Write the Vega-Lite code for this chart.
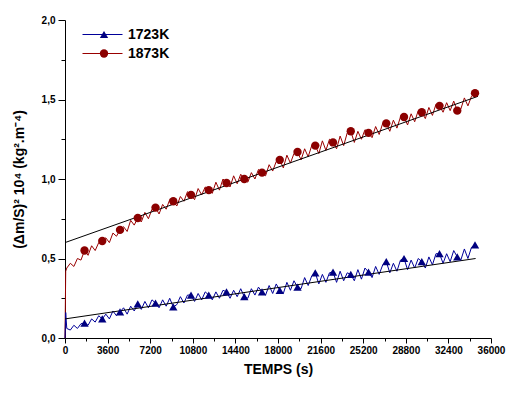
{
  "$schema": "https://vega.github.io/schema/vega-lite/v6.json",
  "autosize": {"type": "none"},
  "padding": {"left": 65, "top": 20, "right": 27, "bottom": 56},
  "width": 426,
  "height": 318,
  "background": "white",
  "config": {
    "view": {"stroke": null},
    "font": "Liberation Sans",
    "axis": {"domainColor": "black", "tickColor": "black", "labelColor": "black", "titleColor": "black", "grid": false, "labelFontWeight": "bold", "labelFontSize": 10, "titleFontWeight": "bold", "titleFontSize": 14, "labelFont": "Liberation Sans", "titleFont": "Liberation Sans"}
  },
  "datasets": {
    "obs": [
      {"s":"1873K","t":0,"v":0,"m":0},{"s":"1873K","t":60,"v":0.42,"m":0},{"s":"1873K","t":150,"v":0.44,"m":0},{"s":"1873K","t":450,"v":0.47,"m":0},{"s":"1873K","t":750,"v":0.45,"m":0},{"s":"1873K","t":1050,"v":0.5,"m":0},{"s":"1873K","t":1350,"v":0.49,"m":0},
      {"s":"1873K","t":1650,"v":0.55,"m":1},{"s":"1873K","t":1950,"v":0.52,"m":0},{"s":"1873K","t":2250,"v":0.58,"m":0},{"s":"1873K","t":2550,"v":0.55,"m":0},{"s":"1873K","t":2850,"v":0.6,"m":0},
      {"s":"1873K","t":3150,"v":0.61,"m":1},{"s":"1873K","t":3450,"v":0.63,"m":0},{"s":"1873K","t":3750,"v":0.6,"m":0},{"s":"1873K","t":4050,"v":0.66,"m":0},{"s":"1873K","t":4350,"v":0.64,"m":0},
      {"s":"1873K","t":4650,"v":0.68,"m":1},{"s":"1873K","t":4950,"v":0.7,"m":0},{"s":"1873K","t":5250,"v":0.67,"m":0},{"s":"1873K","t":5550,"v":0.74,"m":0},{"s":"1873K","t":5850,"v":0.71,"m":0},
      {"s":"1873K","t":6150,"v":0.755,"m":1},{"s":"1873K","t":6450,"v":0.73,"m":0},{"s":"1873K","t":6750,"v":0.79,"m":0},{"s":"1873K","t":7050,"v":0.75,"m":0},{"s":"1873K","t":7350,"v":0.81,"m":0},
      {"s":"1873K","t":7650,"v":0.82,"m":1},{"s":"1873K","t":7950,"v":0.78,"m":0},{"s":"1873K","t":8250,"v":0.84,"m":0},{"s":"1873K","t":8550,"v":0.81,"m":0},{"s":"1873K","t":8850,"v":0.87,"m":0},
      {"s":"1873K","t":9150,"v":0.86,"m":1},{"s":"1873K","t":9450,"v":0.83,"m":0},{"s":"1873K","t":9750,"v":0.89,"m":0},{"s":"1873K","t":10050,"v":0.86,"m":0},{"s":"1873K","t":10350,"v":0.92,"m":0},
      {"s":"1873K","t":10650,"v":0.9,"m":1},{"s":"1873K","t":10950,"v":0.87,"m":0},{"s":"1873K","t":11250,"v":0.94,"m":0},{"s":"1873K","t":11550,"v":0.9,"m":0},{"s":"1873K","t":11850,"v":0.95,"m":0},
      {"s":"1873K","t":12150,"v":0.93,"m":1},{"s":"1873K","t":12450,"v":0.91,"m":0},{"s":"1873K","t":12750,"v":0.98,"m":0},{"s":"1873K","t":13050,"v":0.93,"m":0},{"s":"1873K","t":13350,"v":1.0,"m":0},
      {"s":"1873K","t":13650,"v":0.975,"m":1},{"s":"1873K","t":13950,"v":0.95,"m":0},{"s":"1873K","t":14250,"v":1.02,"m":0},{"s":"1873K","t":14550,"v":0.97,"m":0},{"s":"1873K","t":14850,"v":1.03,"m":0},
      {"s":"1873K","t":15150,"v":1.0,"m":1},{"s":"1873K","t":15450,"v":0.98,"m":0},{"s":"1873K","t":15750,"v":1.04,"m":0},{"s":"1873K","t":16050,"v":1.0,"m":0},{"s":"1873K","t":16350,"v":1.06,"m":0},
      {"s":"1873K","t":16650,"v":1.04,"m":1},{"s":"1873K","t":16950,"v":1.02,"m":0},{"s":"1873K","t":17250,"v":1.09,"m":0},{"s":"1873K","t":17550,"v":1.05,"m":0},{"s":"1873K","t":17850,"v":1.11,"m":0},
      {"s":"1873K","t":18150,"v":1.12,"m":1},{"s":"1873K","t":18450,"v":1.07,"m":0},{"s":"1873K","t":18750,"v":1.15,"m":0},{"s":"1873K","t":19050,"v":1.1,"m":0},{"s":"1873K","t":19350,"v":1.16,"m":0},
      {"s":"1873K","t":19650,"v":1.17,"m":1},{"s":"1873K","t":19950,"v":1.12,"m":0},{"s":"1873K","t":20250,"v":1.19,"m":0},{"s":"1873K","t":20550,"v":1.14,"m":0},{"s":"1873K","t":20850,"v":1.21,"m":0},
      {"s":"1873K","t":21150,"v":1.21,"m":1},{"s":"1873K","t":21450,"v":1.16,"m":0},{"s":"1873K","t":21750,"v":1.24,"m":0},{"s":"1873K","t":22050,"v":1.18,"m":0},{"s":"1873K","t":22350,"v":1.25,"m":0},
      {"s":"1873K","t":22650,"v":1.23,"m":1},{"s":"1873K","t":22950,"v":1.19,"m":0},{"s":"1873K","t":23250,"v":1.27,"m":0},{"s":"1873K","t":23550,"v":1.21,"m":0},{"s":"1873K","t":23850,"v":1.29,"m":0},
      {"s":"1873K","t":24150,"v":1.3,"m":1},{"s":"1873K","t":24450,"v":1.23,"m":0},{"s":"1873K","t":24750,"v":1.3,"m":0},{"s":"1873K","t":25050,"v":1.25,"m":0},{"s":"1873K","t":25350,"v":1.31,"m":0},
      {"s":"1873K","t":25650,"v":1.29,"m":1},{"s":"1873K","t":25950,"v":1.26,"m":0},{"s":"1873K","t":26250,"v":1.33,"m":0},{"s":"1873K","t":26550,"v":1.28,"m":0},{"s":"1873K","t":26850,"v":1.35,"m":0},
      {"s":"1873K","t":27150,"v":1.35,"m":1},{"s":"1873K","t":27450,"v":1.3,"m":0},{"s":"1873K","t":27750,"v":1.37,"m":0},{"s":"1873K","t":28050,"v":1.32,"m":0},{"s":"1873K","t":28350,"v":1.39,"m":0},
      {"s":"1873K","t":28650,"v":1.39,"m":1},{"s":"1873K","t":28950,"v":1.34,"m":0},{"s":"1873K","t":29250,"v":1.41,"m":0},{"s":"1873K","t":29550,"v":1.36,"m":0},{"s":"1873K","t":29850,"v":1.43,"m":0},
      {"s":"1873K","t":30150,"v":1.42,"m":1},{"s":"1873K","t":30450,"v":1.38,"m":0},{"s":"1873K","t":30750,"v":1.45,"m":0},{"s":"1873K","t":31050,"v":1.4,"m":0},{"s":"1873K","t":31350,"v":1.47,"m":0},
      {"s":"1873K","t":31650,"v":1.46,"m":1},{"s":"1873K","t":31950,"v":1.42,"m":0},{"s":"1873K","t":32250,"v":1.48,"m":0},{"s":"1873K","t":32550,"v":1.43,"m":0},{"s":"1873K","t":32850,"v":1.49,"m":0},
      {"s":"1873K","t":33150,"v":1.43,"m":1},{"s":"1873K","t":33450,"v":1.44,"m":0},{"s":"1873K","t":33750,"v":1.51,"m":0},{"s":"1873K","t":34050,"v":1.46,"m":0},{"s":"1873K","t":34350,"v":1.52,"m":0},
      {"s":"1873K","t":34650,"v":1.54,"m":1},

      {"s":"1723K","t":0,"v":0,"m":0},{"s":"1723K","t":60,"v":0.16,"m":0},{"s":"1723K","t":150,"v":0.06,"m":0},{"s":"1723K","t":450,"v":0.05,"m":0},{"s":"1723K","t":750,"v":0.08,"m":0},{"s":"1723K","t":1050,"v":0.06,"m":0},{"s":"1723K","t":1350,"v":0.09,"m":0},
      {"s":"1723K","t":1650,"v":0.094,"m":1},{"s":"1723K","t":1950,"v":0.08,"m":0},{"s":"1723K","t":2250,"v":0.12,"m":0},{"s":"1723K","t":2550,"v":0.1,"m":0},{"s":"1723K","t":2850,"v":0.14,"m":0},
      {"s":"1723K","t":3150,"v":0.12,"m":1},{"s":"1723K","t":3450,"v":0.15,"m":0},{"s":"1723K","t":3750,"v":0.12,"m":0},{"s":"1723K","t":4050,"v":0.17,"m":0},{"s":"1723K","t":4350,"v":0.14,"m":0},
      {"s":"1723K","t":4650,"v":0.164,"m":1},{"s":"1723K","t":4950,"v":0.19,"m":0},{"s":"1723K","t":5250,"v":0.15,"m":0},{"s":"1723K","t":5550,"v":0.2,"m":0},{"s":"1723K","t":5850,"v":0.17,"m":0},
      {"s":"1723K","t":6150,"v":0.214,"m":1},{"s":"1723K","t":6450,"v":0.18,"m":0},{"s":"1723K","t":6750,"v":0.23,"m":0},{"s":"1723K","t":7050,"v":0.19,"m":0},{"s":"1723K","t":7350,"v":0.24,"m":0},
      {"s":"1723K","t":7650,"v":0.22,"m":1},{"s":"1723K","t":7950,"v":0.19,"m":0},{"s":"1723K","t":8250,"v":0.24,"m":0},{"s":"1723K","t":8550,"v":0.2,"m":0},{"s":"1723K","t":8850,"v":0.25,"m":0},
      {"s":"1723K","t":9150,"v":0.195,"m":1},{"s":"1723K","t":9450,"v":0.21,"m":0},{"s":"1723K","t":9750,"v":0.26,"m":0},{"s":"1723K","t":10050,"v":0.22,"m":0},{"s":"1723K","t":10350,"v":0.27,"m":0},
      {"s":"1723K","t":10650,"v":0.27,"m":1},{"s":"1723K","t":10950,"v":0.23,"m":0},{"s":"1723K","t":11250,"v":0.28,"m":0},{"s":"1723K","t":11550,"v":0.24,"m":0},{"s":"1723K","t":11850,"v":0.29,"m":0},
      {"s":"1723K","t":12150,"v":0.27,"m":1},{"s":"1723K","t":12450,"v":0.24,"m":0},{"s":"1723K","t":12750,"v":0.29,"m":0},{"s":"1723K","t":13050,"v":0.25,"m":0},{"s":"1723K","t":13350,"v":0.3,"m":0},
      {"s":"1723K","t":13650,"v":0.29,"m":1},{"s":"1723K","t":13950,"v":0.25,"m":0},{"s":"1723K","t":14250,"v":0.3,"m":0},{"s":"1723K","t":14550,"v":0.26,"m":0},{"s":"1723K","t":14850,"v":0.31,"m":0},
      {"s":"1723K","t":15150,"v":0.26,"m":1},{"s":"1723K","t":15450,"v":0.25,"m":0},{"s":"1723K","t":15750,"v":0.31,"m":0},{"s":"1723K","t":16050,"v":0.27,"m":0},{"s":"1723K","t":16350,"v":0.32,"m":0},
      {"s":"1723K","t":16650,"v":0.29,"m":1},{"s":"1723K","t":16950,"v":0.27,"m":0},{"s":"1723K","t":17250,"v":0.33,"m":0},{"s":"1723K","t":17550,"v":0.28,"m":0},{"s":"1723K","t":17850,"v":0.34,"m":0},
      {"s":"1723K","t":18150,"v":0.3,"m":1},{"s":"1723K","t":18450,"v":0.28,"m":0},{"s":"1723K","t":18750,"v":0.35,"m":0},{"s":"1723K","t":19050,"v":0.3,"m":0},{"s":"1723K","t":19350,"v":0.36,"m":0},
      {"s":"1723K","t":19650,"v":0.32,"m":1},{"s":"1723K","t":19950,"v":0.31,"m":0},{"s":"1723K","t":20250,"v":0.38,"m":0},{"s":"1723K","t":20550,"v":0.33,"m":0},{"s":"1723K","t":20850,"v":0.39,"m":0},
      {"s":"1723K","t":21150,"v":0.41,"m":1},{"s":"1723K","t":21450,"v":0.34,"m":0},{"s":"1723K","t":21750,"v":0.4,"m":0},{"s":"1723K","t":22050,"v":0.35,"m":0},{"s":"1723K","t":22350,"v":0.41,"m":0},
      {"s":"1723K","t":22650,"v":0.415,"m":1},{"s":"1723K","t":22950,"v":0.35,"m":0},{"s":"1723K","t":23250,"v":0.42,"m":0},{"s":"1723K","t":23550,"v":0.36,"m":0},{"s":"1723K","t":23850,"v":0.41,"m":0},
      {"s":"1723K","t":24150,"v":0.4,"m":1},{"s":"1723K","t":24450,"v":0.36,"m":0},{"s":"1723K","t":24750,"v":0.43,"m":0},{"s":"1723K","t":25050,"v":0.37,"m":0},{"s":"1723K","t":25350,"v":0.44,"m":0},
      {"s":"1723K","t":25650,"v":0.415,"m":1},{"s":"1723K","t":25950,"v":0.38,"m":0},{"s":"1723K","t":26250,"v":0.45,"m":0},{"s":"1723K","t":26550,"v":0.4,"m":0},{"s":"1723K","t":26850,"v":0.46,"m":0},
      {"s":"1723K","t":27150,"v":0.48,"m":1},{"s":"1723K","t":27450,"v":0.41,"m":0},{"s":"1723K","t":27750,"v":0.47,"m":0},{"s":"1723K","t":28050,"v":0.42,"m":0},{"s":"1723K","t":28350,"v":0.49,"m":0},
      {"s":"1723K","t":28650,"v":0.5,"m":1},{"s":"1723K","t":28950,"v":0.43,"m":0},{"s":"1723K","t":29250,"v":0.49,"m":0},{"s":"1723K","t":29550,"v":0.44,"m":0},{"s":"1723K","t":29850,"v":0.5,"m":0},
      {"s":"1723K","t":30150,"v":0.48,"m":1},{"s":"1723K","t":30450,"v":0.44,"m":0},{"s":"1723K","t":30750,"v":0.51,"m":0},{"s":"1723K","t":31050,"v":0.46,"m":0},{"s":"1723K","t":31350,"v":0.53,"m":0},
      {"s":"1723K","t":31650,"v":0.53,"m":1},{"s":"1723K","t":31950,"v":0.47,"m":0},{"s":"1723K","t":32250,"v":0.53,"m":0},{"s":"1723K","t":32550,"v":0.48,"m":0},{"s":"1723K","t":32850,"v":0.55,"m":0},
      {"s":"1723K","t":33150,"v":0.51,"m":1},{"s":"1723K","t":33450,"v":0.49,"m":0},{"s":"1723K","t":33750,"v":0.56,"m":0},{"s":"1723K","t":34050,"v":0.5,"m":0},{"s":"1723K","t":34350,"v":0.57,"m":0},
      {"s":"1723K","t":34650,"v":0.585,"m":1}
    ],
    "fit": [
      {"s":"1723K","t":0,"v":0.12},{"s":"1723K","t":34700,"v":0.5},
      {"s":"1873K","t":0,"v":0.6},{"s":"1873K","t":34900,"v":1.52}
    ]
  },
  "encoding": {
    "x": {"field": "t", "type": "quantitative", "scale": {"domain": [0, 36000], "nice": false},
      "axis": {"title": "TEMPS (s)", "values": [0,1800,3600,5400,7200,9000,10800,12600,14400,16200,18000,19800,21600,23400,25200,27000,28800,30600,32400,34200,36000],
        "format": "d", "labelExpr": "datum.value % 3600 == 0 ? datum.label : ''",
        "tickSize": {"condition": {"test": "datum.value % 3600 != 0", "value": 3}, "value": 5},
        "labelPadding": 2, "titlePadding": 7, "labelFlush": false, "labelOverlap": false}},
    "y": {"field": "v", "type": "quantitative", "scale": {"domain": [0, 2], "nice": false},
      "axis": {"title": "(Δm/S)² 10⁴ (kg².m⁻⁴)", "values": [0,0.25,0.5,0.75,1,1.25,1.5,1.75,2],
        "labelExpr": "datum.value % 0.5 == 0 ? replace(format(datum.value, '.1f'), '.', ',') : ''",
        "tickSize": {"condition": {"test": "datum.value % 0.5 != 0", "value": 4}, "value": 7},
        "labelPadding": 3, "titlePadding": 15, "labelFlush": false, "labelOverlap": false}}
  },
  "layer": [
    {
      "data": {"name": "obs"},
      "mark": {"type": "line", "strokeWidth": 1},
      "encoding": {
        "stroke": {"field": "s", "type": "nominal",
          "scale": {"domain": ["1723K", "1873K"], "range": ["#000099", "#990000"]},
          "legend": {"title": null, "orient": "none", "legendX": 17, "legendY": 7, "symbolType": "stroke", "symbolSize": 1600, "symbolStrokeWidth": 1,
            "labelFontSize": 14, "labelFontWeight": "bold", "labelColor": "black", "labelOffset": 5, "clipHeight": 15, "rowPadding": 4, "padding": 0}},
        "order": {"field": "t", "type": "quantitative"}
      }
    },
    {
      "data": {"name": "fit"},
      "mark": {"type": "line", "color": "black", "strokeWidth": 1},
      "encoding": {"detail": {"field": "s", "type": "nominal"}}
    },
    {
      "data": {"name": "obs"},
      "transform": [{"filter": "datum.m == 1"}],
      "mark": {"type": "point", "filled": true, "opacity": 1, "size": 70},
      "encoding": {
        "fill": {"field": "s", "type": "nominal",
          "scale": {"range": ["#000080", "#8b0000"]},
          "legend": {"title": null, "orient": "none", "legendX": 32, "legendY": 7, "symbolSize": 70, "labelExpr": "''",
            "labelFontSize": 14, "labelOffset": 0, "clipHeight": 15, "rowPadding": 4, "padding": 0, "symbolStrokeWidth": 0}},
        "shape": {"field": "s", "type": "nominal",
          "scale": {"range": ["triangle-up", "circle"]},
          "legend": {"title": null, "orient": "none", "legendX": 32, "legendY": 7, "symbolSize": 70, "labelExpr": "''",
            "labelFontSize": 14, "labelOffset": 0, "clipHeight": 15, "rowPadding": 4, "padding": 0, "symbolStrokeWidth": 0}}
      }
    }
  ]
}
